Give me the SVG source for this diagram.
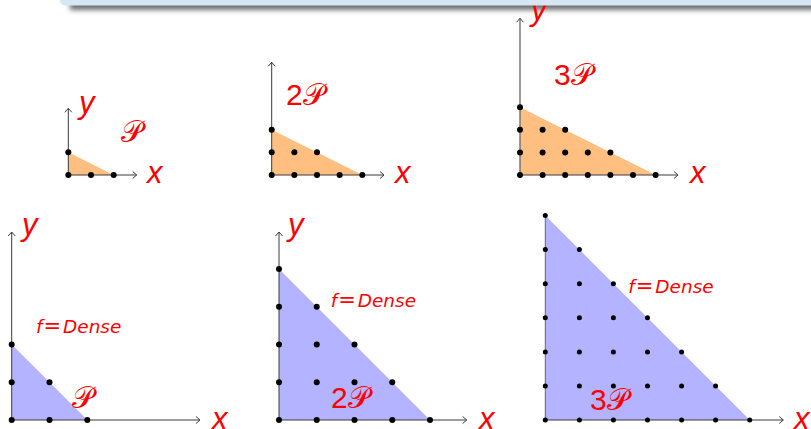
<svg xmlns="http://www.w3.org/2000/svg" xmlns:xlink="http://www.w3.org/1999/xlink" width="811" height="429" viewBox="0 0 811 429">
<style>
.ax{stroke:#3a3a3a;stroke-width:1;fill:none}
.ora{fill:#ffbf80;stroke:none}
.blu{fill:#b3b3ff;stroke:none}
.d{fill:#000}
.lbl{font-family:"Liberation Sans",Arial,sans-serif;font-style:italic;font-size:31px;fill:#ff0000}
.num{font-family:"Liberation Sans",Arial,sans-serif;font-size:30px;fill:#ff0000}
.cal{font-family:"DejaVu Serif","Noto Sans",serif;font-size:30px;fill:#ff0000;font-style:normal}
.fd{font-family:"DejaVu Sans",sans-serif;font-size:18.5px;fill:#ff0000}
.eq{font-size:21px}
.it{font-style:italic}
</style>
<defs>
<marker id="arr" markerUnits="userSpaceOnUse" markerWidth="12" markerHeight="12" refX="0" refY="0" viewBox="-6 -6 12 12" orient="auto" overflow="visible">
<path d="M-4,-3.5 L0,0 L-4,3.5" fill="none" stroke="#3a3a3a" stroke-width="1"/>
</marker>
<filter id="blur" x="-5%" y="-100%" width="110%" height="300%">
<feGaussianBlur stdDeviation="2.6"/>
</filter>
</defs>

<g id="header-shadow">
<rect x="70" y="-20" width="760" height="30" fill="#6e6e6e" filter="url(#blur)"/>
</g>

<g id="fills">
<polygon class="ora" points="68.3,175 113.7,175 68.3,152.3"/>
<polygon class="ora" points="271.7,175 362.3,175 271.7,129.7"/>
<polygon class="ora" points="520,175 655.6,175 520,107.2"/>
<polygon class="blu" points="11.7,420 87.3,420 11.7,344.4"/>
<polygon class="blu" points="279,420 430,420 279,269"/>
<polygon class="blu" points="545.3,420 749.7,420 545.3,215.6"/>
</g>

<g id="connectors">
<line class="ax" x1="68.3" y1="175" x2="136.7" y2="175" marker-end="url(#arr)"/>
<line class="ax" x1="68.3" y1="175" x2="68.3" y2="108.3" marker-end="url(#arr)"/>
<line class="ax" x1="271.7" y1="175" x2="384" y2="175" marker-end="url(#arr)"/>
<line class="ax" x1="271.7" y1="175" x2="271.7" y2="62.3" marker-end="url(#arr)"/>
<line class="ax" x1="520" y1="175" x2="678" y2="175" marker-end="url(#arr)"/>
<line class="ax" x1="520" y1="175" x2="520" y2="18.3" marker-end="url(#arr)" style="stroke:#666;stroke-width:1.3"/>
<line class="ax" x1="11.7" y1="420" x2="200" y2="420" marker-end="url(#arr)"/>
<line class="ax" x1="11.7" y1="420" x2="11.7" y2="232" marker-end="url(#arr)"/>
<line class="ax" x1="279" y1="420" x2="466.7" y2="420" marker-end="url(#arr)"/>
<line class="ax" x1="279" y1="420" x2="279" y2="232" marker-end="url(#arr)"/>
<line class="ax" x1="545.3" y1="420" x2="783.3" y2="420" marker-end="url(#arr)"/>
<line class="ax" x1="545.3" y1="420" x2="545.3" y2="215.6" style="stroke:#666"/>
</g>

<g id="node-P">
<circle class="d" cx="68.3" cy="175" r="3"/><circle class="d" cx="91" cy="175" r="3"/><circle class="d" cx="113.7" cy="175" r="3"/>
<circle class="d" cx="68.3" cy="152.3" r="3"/>
<text class="lbl" x="79" y="112.5">y</text>
<text class="lbl" x="147" y="183">x</text>
<text class="cal" x="121" y="142">𝒫</text>
</g>

<g id="node-2P">
<circle class="d" cx="271.7" cy="175" r="3"/><circle class="d" cx="294.35" cy="175" r="3"/><circle class="d" cx="317" cy="175" r="3"/><circle class="d" cx="339.65" cy="175" r="3"/><circle class="d" cx="362.3" cy="175" r="3"/>
<circle class="d" cx="271.7" cy="152.35" r="3"/><circle class="d" cx="294.35" cy="152.35" r="3"/><circle class="d" cx="317" cy="152.35" r="3"/>
<circle class="d" cx="271.7" cy="129.7" r="3"/>
<text class="lbl" x="395" y="183">x</text>
<text class="num" x="286" y="105">2<tspan class="cal">𝒫</tspan></text>
</g>

<g id="node-3P">
<circle class="d" cx="520" cy="175" r="3"/><circle class="d" cx="542.6" cy="175" r="3"/><circle class="d" cx="565.2" cy="175" r="3"/><circle class="d" cx="587.8" cy="175" r="3"/><circle class="d" cx="610.4" cy="175" r="3"/><circle class="d" cx="633" cy="175" r="3"/><circle class="d" cx="655.6" cy="175" r="3"/>
<circle class="d" cx="520" cy="152.4" r="3"/><circle class="d" cx="542.6" cy="152.4" r="3"/><circle class="d" cx="565.2" cy="152.4" r="3"/><circle class="d" cx="587.8" cy="152.4" r="3"/><circle class="d" cx="610.4" cy="152.4" r="3"/>
<circle class="d" cx="520" cy="129.8" r="3"/><circle class="d" cx="542.6" cy="129.8" r="3"/><circle class="d" cx="565.2" cy="129.8" r="3"/>
<circle class="d" cx="520" cy="107.2" r="3"/>
<text class="lbl" x="531" y="19.5">y</text>
<text class="lbl" x="690" y="183">x</text>
<text class="num" x="554" y="85">3<tspan class="cal">𝒫</tspan></text>
</g>

<g id="node-P-dense">
<circle class="d" cx="11.7" cy="420" r="3"/><circle class="d" cx="49.5" cy="420" r="3"/><circle class="d" cx="87.3" cy="420" r="3"/>
<circle class="d" cx="11.7" cy="382.2" r="3"/><circle class="d" cx="49.5" cy="382.2" r="3"/>
<circle class="d" cx="11.7" cy="344.4" r="3"/>
<text class="lbl" x="22" y="235">y</text>
<text class="lbl" x="212" y="429">x</text>
<text class="fd" y="333"><tspan class="it" x="36">f</tspan><tspan class="eq" x="43.5">=</tspan><tspan class="it" x="63">Dense</tspan></text>
<text class="cal" x="72" y="408">𝒫</text>
</g>

<g id="node-2P-dense">
<circle class="d" cx="279" cy="420" r="3"/><circle class="d" cx="316.75" cy="420" r="3"/><circle class="d" cx="354.5" cy="420" r="3"/><circle class="d" cx="392.25" cy="420" r="3"/><circle class="d" cx="430" cy="420" r="3"/>
<circle class="d" cx="279" cy="382.25" r="3"/><circle class="d" cx="316.75" cy="382.25" r="3"/><circle class="d" cx="354.5" cy="382.25" r="3"/><circle class="d" cx="392.25" cy="382.25" r="3"/>
<circle class="d" cx="279" cy="344.5" r="3"/><circle class="d" cx="316.75" cy="344.5" r="3"/><circle class="d" cx="354.5" cy="344.5" r="3"/>
<circle class="d" cx="279" cy="306.75" r="3"/><circle class="d" cx="316.75" cy="306.75" r="3"/>
<circle class="d" cx="279" cy="269" r="3"/>
<text class="lbl" x="288" y="235">y</text>
<text class="lbl" x="479" y="429">x</text>
<text class="fd" y="306.7"><tspan class="it" x="330.7">f</tspan><tspan class="eq" x="338.2">=</tspan><tspan class="it" x="357.7">Dense</tspan></text>
<text class="num" x="331" y="408.3">2<tspan class="cal">𝒫</tspan></text>
</g>

<g id="node-3P-dense">
<circle class="d" cx="545.3" cy="420" r="2.5"/><circle class="d" cx="579.4" cy="420" r="2.5"/><circle class="d" cx="613.4" cy="420" r="2.5"/><circle class="d" cx="647.5" cy="420" r="2.5"/><circle class="d" cx="681.6" cy="420" r="2.5"/><circle class="d" cx="715.6" cy="420" r="2.5"/><circle class="d" cx="749.7" cy="420" r="2.5"/>
<circle class="d" cx="545.3" cy="385.9" r="2.5"/><circle class="d" cx="579.4" cy="385.9" r="2.5"/><circle class="d" cx="613.4" cy="385.9" r="2.5"/><circle class="d" cx="647.5" cy="385.9" r="2.5"/><circle class="d" cx="681.6" cy="385.9" r="2.5"/><circle class="d" cx="715.6" cy="385.9" r="2.5"/>
<circle class="d" cx="545.3" cy="351.9" r="2.5"/><circle class="d" cx="579.4" cy="351.9" r="2.5"/><circle class="d" cx="613.4" cy="351.9" r="2.5"/><circle class="d" cx="647.5" cy="351.9" r="2.5"/><circle class="d" cx="681.6" cy="351.9" r="2.5"/>
<circle class="d" cx="545.3" cy="317.8" r="2.5"/><circle class="d" cx="579.4" cy="317.8" r="2.5"/><circle class="d" cx="613.4" cy="317.8" r="2.5"/><circle class="d" cx="647.5" cy="317.8" r="2.5"/>
<circle class="d" cx="545.3" cy="283.7" r="2.5"/><circle class="d" cx="579.4" cy="283.7" r="2.5"/><circle class="d" cx="613.4" cy="283.7" r="2.5"/>
<circle class="d" cx="545.3" cy="249.6" r="2.5"/><circle class="d" cx="579.4" cy="249.6" r="2.5"/>
<circle class="d" cx="545.3" cy="215.6" r="2.5"/>
<text class="lbl" x="794" y="429">x</text>
<text class="fd" y="292.7"><tspan class="it" x="628.3">f</tspan><tspan class="eq" x="635.8">=</tspan><tspan class="it" x="655.3">Dense</tspan></text>
<text class="num" x="590" y="410">3<tspan class="cal">𝒫</tspan></text>
</g>

<g id="header">
<rect x="60" y="-20" width="770" height="25.5" rx="5" ry="5" fill="#d6e6f4"/>
</g>
</svg>
